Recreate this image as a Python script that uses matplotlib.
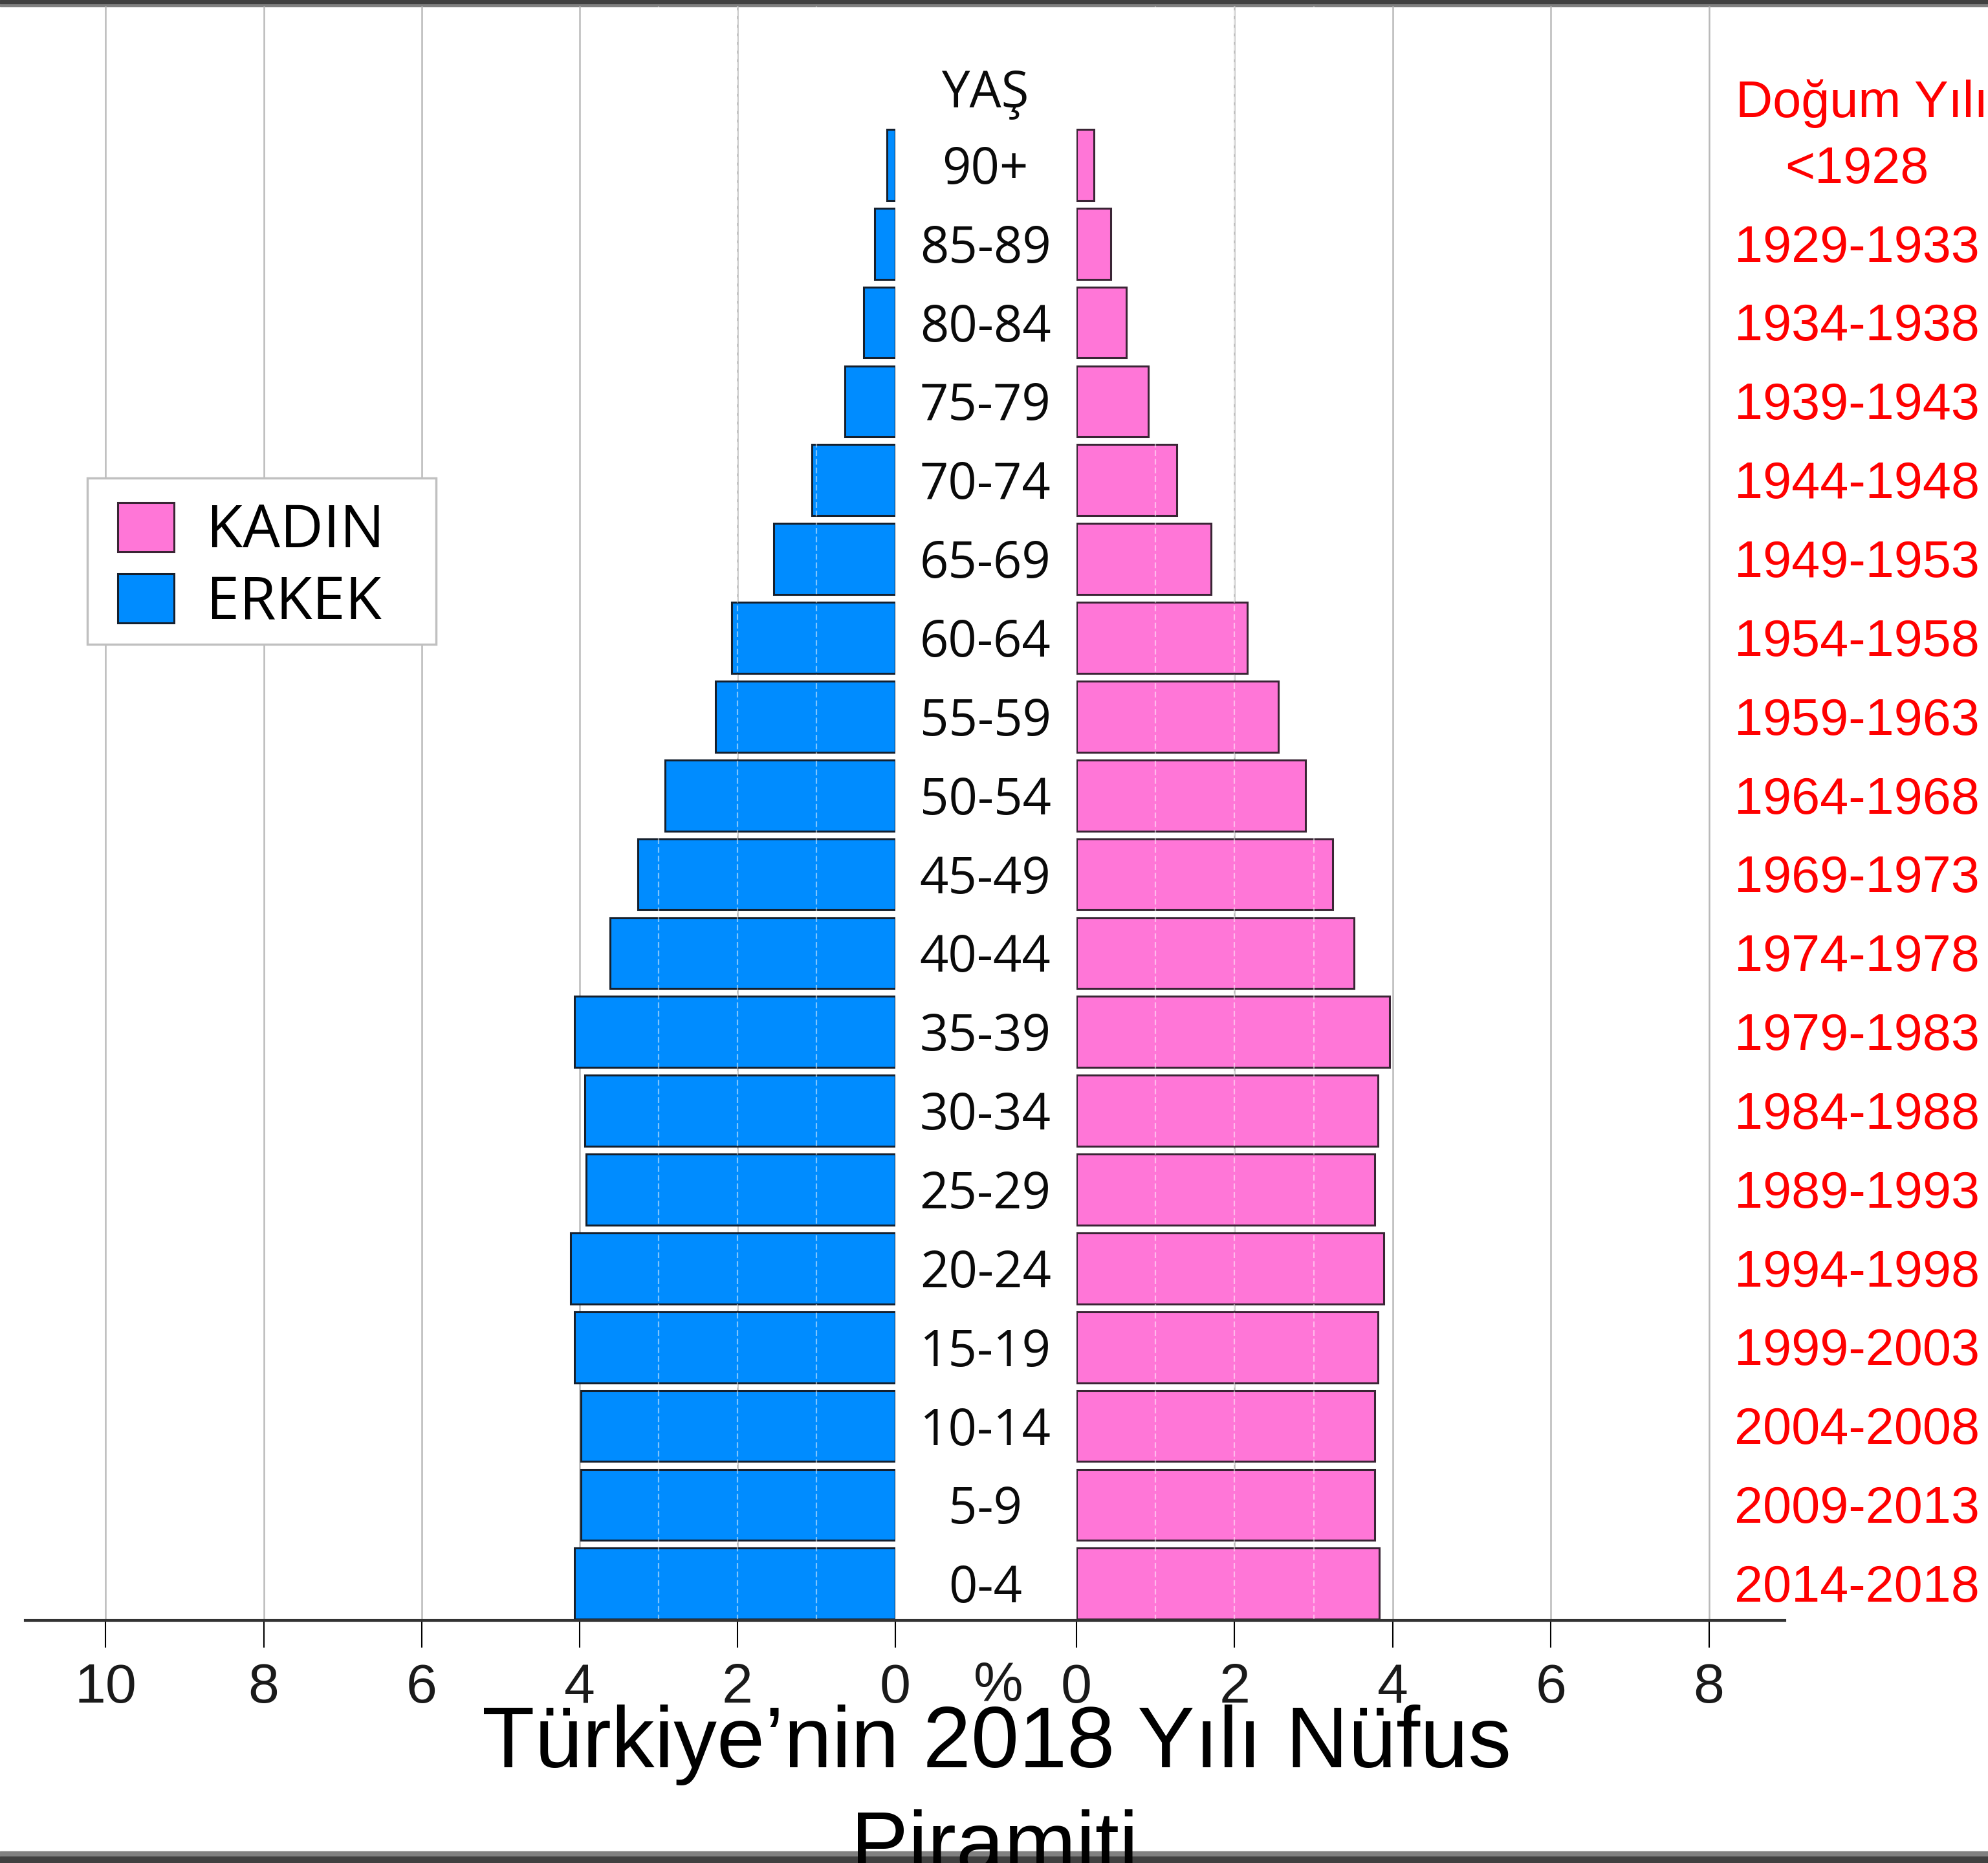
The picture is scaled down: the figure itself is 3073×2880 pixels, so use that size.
import numpy as np
import matplotlib
matplotlib.use('Agg')
import matplotlib.pyplot as plt
from matplotlib.lines import Line2D
from matplotlib.patches import Rectangle

plt.rcParams['font.family'] = ['Liberation Sans', 'DejaVu Sans']

# data, from youngest to oldest
ages = ['0-4', '5-9', '10-14', '15-19', '20-24', '25-29', '30-34', '35-39', '40-44',
        '45-49', '50-54', '55-59', '60-64', '65-69', '70-74', '75-79', '80-84', '85-89', '90+']
erkek = [4.06, 3.98, 3.98, 4.06, 4.11, 3.92, 3.93, 4.06, 3.61,
         3.26, 2.92, 2.28, 2.07, 1.54, 1.06, 0.64, 0.40, 0.26, 0.11]
kadin = [3.83, 3.77, 3.77, 3.81, 3.89, 3.77, 3.81, 3.96, 3.51,
         3.24, 2.90, 2.55, 2.16, 1.70, 1.27, 0.91, 0.63, 0.43, 0.22]
dogum = ['2014-2018', '2009-2013', '2004-2008', '1999-2003', '1994-1998', '1989-1993',
         '1984-1988', '1979-1983', '1974-1978', '1969-1973', '1964-1968', '1959-1963',
         '1954-1958', '1949-1953', '1944-1948', '1939-1943', '1934-1938', '1929-1933', '<1928']
left_ticks = [0, 2, 4, 6, 8, 10]
right_ticks = [0, 2, 4, 6, 8]

W, H = 3073, 2880
def fy(py):
    return 1 - py / H

fig = plt.figure(figsize=(W / 100, H / 100), dpi=100)

# frame bands top / bottom
fig.add_artist(Rectangle((0, fy(10)), 1, 5 / H, transform=fig.transFigure, color='#808080', zorder=0))
fig.add_artist(Rectangle((0, fy(5)), 1, 5 / H, transform=fig.transFigure, color='#404040', zorder=0))
fig.add_artist(Rectangle((0, fy(2870)), 1, 8 / H, transform=fig.transFigure, color='#808080', zorder=0))
fig.add_artist(Rectangle((0, 0), 1, 10 / H, transform=fig.transFigure, color='#404040', zorder=0))

ax_l = fig.add_axes([39 / W, (H - 2505) / H, (1384 - 39) / W, 2495 / H])
ax_r = fig.add_axes([1664 / W, (H - 2505) / H, (2759 - 1664) / W, 2495 / H])
for ax in (ax_l, ax_r):
    ax.patch.set_alpha(0)
    for s in ax.spines.values():
        s.set_visible(False)
    ax.set_yticks([])
    ax.set_ylim(-0.466, 20.01)
    ax.tick_params(axis='x', length=30, width=1.5, pad=17, labelsize=62,
                   color='black', labelcolor='#1a1a1a')

ax_l.set_xlim(11.02, 0)
ax_r.set_xlim(0, 8.96)

y = np.arange(len(ages))
bar_e = ax_l.barh(y, erkek, height=0.9, color='#008cff', edgecolor='#15202e', linewidth=2.2, zorder=2)
bar_k = ax_r.barh(y, kadin, height=0.9, color='#ff76d7', edgecolor='#3a2535', linewidth=2.2, zorder=2)

ax_l.set_xticks(left_ticks)
ax_r.set_xticks(right_ticks)

for v in left_ticks[1:]:
    ax_l.axvline(v, color='#bababa', lw=1.8, zorder=0)
for v in right_ticks[1:]:
    ax_r.axvline(v, color='#bababa', lw=1.8, zorder=0)
for v in [1, 2, 3]:
    ax_l.axvline(v, color='white', alpha=0.5, lw=1.6, ls=(0, (4, 2)), zorder=3)
    ax_r.axvline(v, color='white', alpha=0.5, lw=1.6, ls=(0, (4, 2)), zorder=3)

# baseline
fig.add_artist(Line2D([39 / W, 2759 / W], [fy(2505)] * 2, color='#333333', lw=3, zorder=5))

# age labels
for yi, a in zip(y, ages):
    ax_l.text(-1.14, yi - 0.07, a, ha='center', va='center', fontsize=56,
              family='Open Sans', color='#0a0a0a', clip_on=False)
ax_l.text(-1.14, 18.9, 'YAŞ', ha='center', va='center', fontsize=56,
          family='Open Sans', color='#0a0a0a', clip_on=False)

# birth years
for yi, d in zip(y, dogum):
    ax_r.text(9.87, yi - 0.06, d, ha='center', va='center', fontsize=57, color='#ff0000', clip_on=False)
ax_r.text(8.34, 18.78, 'Doğum Yılı', ha='left', va='center', fontsize=57, color='#ff0000', clip_on=False)

fig.text(1543 / W, fy(2568), '%', ha='center', va='top', fontsize=62, color='#1a1a1a')

# legend with a hand-sized frame
fig.add_artist(Rectangle((135 / W, fy(996)), (674 - 135) / W, (996 - 739) / H,
                         transform=fig.transFigure, facecolor='white', edgecolor='#c0c0c0',
                         lw=2.5, zorder=4))
leg = fig.legend([bar_k, bar_e], ['KADIN', 'ERKEK'], loc='upper left',
                 bbox_to_anchor=(145 / W, fy(740)), frameon=False,
                 prop={'family': 'Open Sans', 'size': 66},
                 handlelength=0.95, handleheight=0.9, handletextpad=0.55,
                 labelspacing=0.2, borderpad=0.4, borderaxespad=0)
leg.set_zorder(6)

fig.text(1541 / W, fy(2732), 'Türkiye’nin 2018 Yılı Nüfus', ha='center', va='baseline',
         fontsize=96, zorder=10)
fig.text(1537 / W, fy(2894), 'Piramiti', ha='center', va='baseline', fontsize=96, zorder=10)

fig.savefig('out.png', dpi=100)
